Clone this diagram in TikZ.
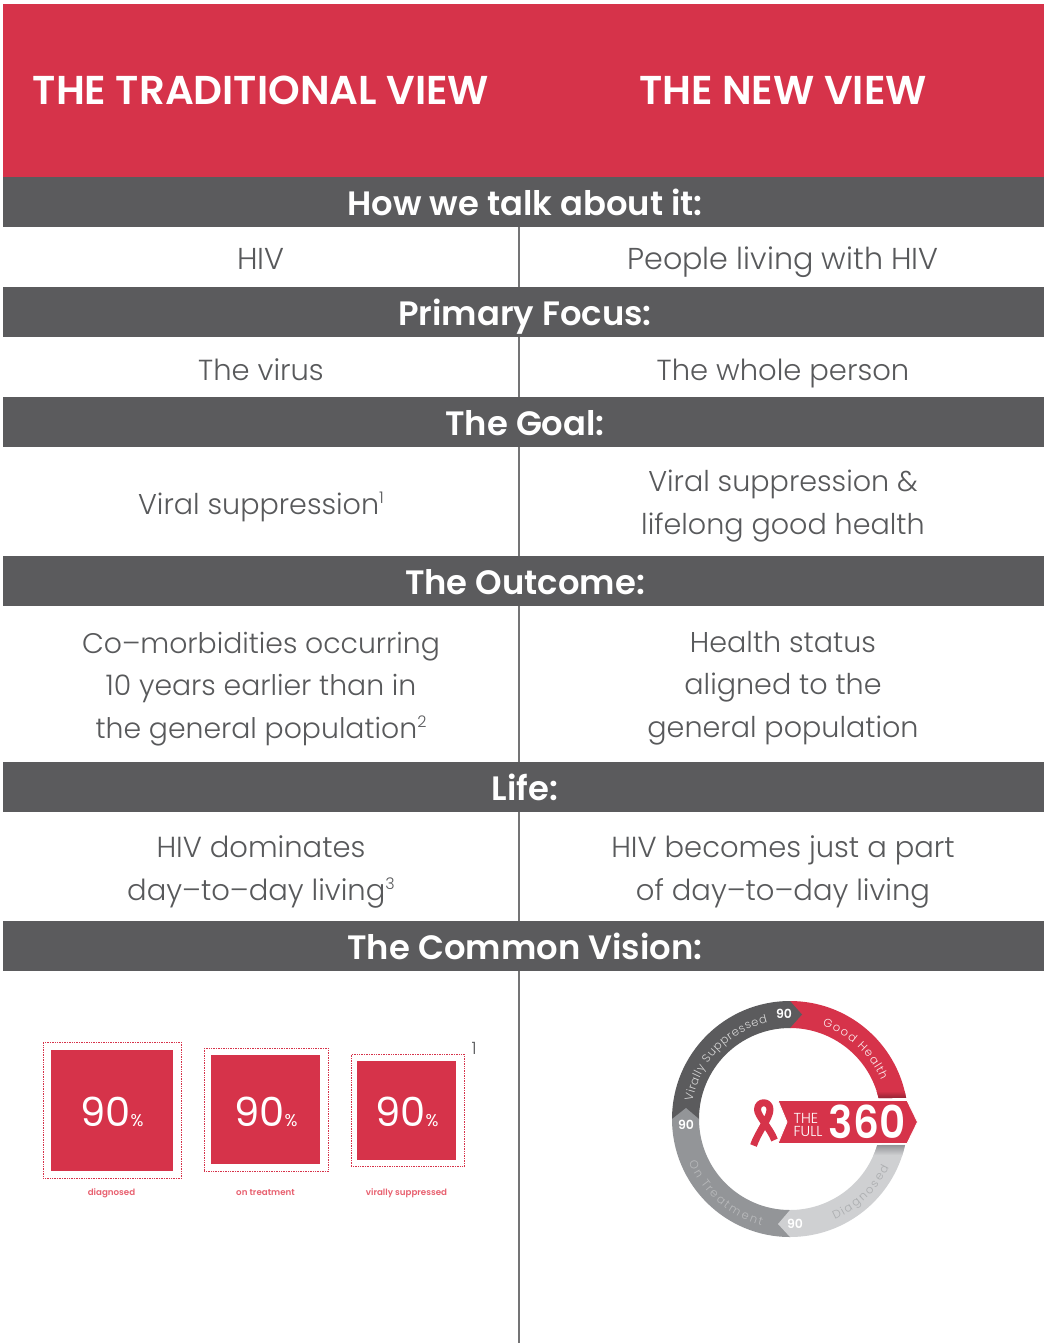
\documentclass[tikz,border=0pt]{standalone}
\usepackage{fontspec}
\usepackage{graphicx}
\setmainfont{Poppins Light}
\newfontfamily\headfont{Poppins SemiBold}
\newfontfamily\boldf{Poppins SemiBold}
\newfontfamily\regf{Poppins}
\usetikzlibrary{decorations.text,shadings}
\definecolor{myred}{HTML}{D6334A}
\definecolor{band}{HTML}{5B5B5D}
\definecolor{bodytxt}{HTML}{58595B}
\definecolor{midg}{HTML}{939598}
\definecolor{lightg}{HTML}{CFD0D2}
\definecolor{lbl}{HTML}{E8606F}
\newcommand{\supr}[1]{\raisebox{11pt}{\fontsize{16}{16}\selectfont #1}}
\tikzset{
 bandbox/.style={fill=band,draw=none,minimum width=1041pt,minimum height=50pt,inner sep=0pt,anchor=north west},
 bandtxt/.style={text=white,font=\headfont\fontsize{33.8}{33.8}\selectfont,inner sep=0pt,anchor=base},
 headtxt/.style={text=white,font=\headfont\fontsize{40.3}{40.3}\selectfont,inner sep=0pt,anchor=base},
 cell/.style={text=bodytxt,font=\fontsize{#1}{42.5}\selectfont,align=center,inner sep=0pt,anchor=base},
 cell/.default=28.6,
 divider/.style={draw=band!85,line width=1.2pt},
 redsq/.style={fill=myred,draw=none,inner sep=0pt,anchor=north west},
 dotbox/.style={draw=myred,densely dotted,line width=.7pt,inner sep=0pt,anchor=north west},
 pct/.style={text=white,inner sep=0pt,anchor=base},
 lab/.style={text=lbl,font=\boldf\fontsize{8.7}{8.7}\selectfont,inner sep=0pt,anchor=base},
 ninety/.style={text=white,font=\boldf\fontsize{12.5}{12.5}\selectfont,inner sep=0pt},
 ribbon/.style={line width=7pt,line join=round},
}
\newcommand{\arctext}[5]{% colour, start, end, radius, text
 \path[decorate,decoration={text effects along path,text={#5},text effects/.cd,text along path,fit text to path,characters={text=#1,font=\fontsize{11.5}{11.5}\selectfont}}]
  (#2:#4) arc[start angle=#2,end angle=#3,radius=#4];}
\newcommand{\ninetypct}{\fontsize{40}{40}\regf\selectfont 90\fontsize{17}{17}\selectfont\%}
\begin{document}
\begin{tikzpicture}[x=1pt,y=-1pt]
\useasboundingbox (0,0) rectangle (1044,1343);
\fill[white] (0,0) rectangle (1044,1343);
\node[fill=myred,minimum width=1041pt,minimum height=173pt,inner sep=0pt,anchor=north west] (hero) at (3,3.5) {};
\node[headtxt] (hl) at (261,105) {THE TRADITIONAL VIEW};
\node[headtxt] (hr) at (783,105) {THE NEW VIEW};
\node[bandbox] (b1) at (3,177) {};
\node[bandbox] (b2) at (3,287) {};
\node[bandbox] (b3) at (3,397) {};
\node[bandbox] (b4) at (3,556) {};
\node[bandbox] (b5) at (3,762) {};
\node[bandbox] (b6) at (3,921) {};
\node[bandtxt] (t1) at (525,215) {How we talk about it:};
\node[bandtxt] (t2) at (525,325) {Primary Focus:};
\node[bandtxt] (t3) at (525,435) {The Goal:};
\node[bandtxt] (t4) at (525,594) {The Outcome:};
\node[bandtxt] (t5) at (525,800) {Life:};
\node[bandtxt] (t6) at (525,959) {The Common Vision:};
\coordinate (vend) at (519,1343);
\foreach \a/\b in {b1/b2,b2/b3,b3/b4,b4/b5,b5/b6}{\draw[divider] (\a.south -| vend) -- (\b.north -| vend);}
\draw[divider] (b6.south -| vend) -- (vend);
\node[cell=30.2] (c1) at (261,269) {HIV};
\node[cell=30.2] (c2) at (783,269) {People living with HIV};
\node[cell=29] (c3) at (261,380) {The virus};
\node[cell=29] (c4) at (783,380) {The whole person};
\node[cell] (c5) at (261,514) {Viral suppression\supr{1}};
\node[cell] (c6) at (783,534) {Viral suppression \&\\lifelong good health};
\node[cell=28.3] (c7) at (261,738) {Co--morbidities occurring\\10 years earlier than in\\the general population\supr{2}};
\node[cell] (c8) at (783,737) {Health status\\aligned to the\\general population};
\node[cell=29] (c9) at (261,900) {HIV dominates\\day--to--day living\supr{3}};
\node[cell=29] (c10) at (783,900) {HIV becomes just a part\\of day--to--day living};
% 90 boxes
\node[dotbox,minimum width=138pt,minimum height=136pt] (d1) at (43,1042) {};
\node[redsq,minimum width=122pt,minimum height=121pt] (s1) at (51,1050) {};
\node[pct] (p1) at (112,1126) {\ninetypct};
\node[dotbox,minimum width=124pt,minimum height=123pt] (d2) at (204,1048) {};
\node[redsq,minimum width=109pt,minimum height=109pt] (s2) at (211,1055) {};
\node[pct] (p2) at (266,1126) {\ninetypct};
\node[dotbox,minimum width=113pt,minimum height=112pt] (d3) at (351,1054) {};
\node[redsq,minimum width=99pt,minimum height=99pt] (s3) at (357,1061) {};
\node[pct] (p3) at (407,1126) {\ninetypct};
\node[lab] (l1) at (111.5,1195) {diagnosed};
\node[lab] (l2) at (265.5,1195) {on treatment};
\node[lab] (l3) at (406.5,1195) {virally suppressed};
\node[text=bodytxt,font=\fontsize{17}{17}\selectfont,inner sep=0pt] (n1) at (474,1048) {1};
% ring
\begin{scope}[shift={(790,1119)}]
\begin{scope}[y=1pt]
\fill[band] (180:118) arc[start angle=180,end angle=90,radius=118] -- (90:91) arc[start angle=90,end angle=180,radius=91] -- cycle;
\fill[midg] (180:118) arc[start angle=180,end angle=270,radius=118] -- (270:91) arc[start angle=270,end angle=180,radius=91] -- cycle;
\fill[lightg] (270:118) arc[start angle=270,end angle=347.3,radius=118] -- (343.4:91) arc[start angle=343.4,end angle=270,radius=91] -- cycle;
\fill[myred] (90:118) arc[start angle=90,end angle=10.3,radius=118] -- (13.3:91) arc[start angle=13.3,end angle=90,radius=91] -- cycle;
\begin{scope}
\clip (90:118) arc[start angle=90,end angle=10.3,radius=118] -- (13.3:91) arc[start angle=13.3,end angle=90,radius=91] -- cycle;
\shade[top color=myred,bottom color=myred!70!black] (85,28) rectangle (120,21);
\end{scope}
\begin{scope}
\clip (270:118) arc[start angle=270,end angle=347.3,radius=118] -- (343.4:91) arc[start angle=343.4,end angle=270,radius=91] -- cycle;
\shade[top color=midg,bottom color=lightg] (80,-26) rectangle (120,-36);
\end{scope}
\fill[band] (0,118) -- (12,104.5) -- (0,91) -- cycle;
\fill[midg] (-118,0) -- (-104,11) -- (-91,0) -- cycle;
\fill[lightg] (0,-118) -- (-12,-105) -- (0,-91) -- cycle;
\arctext{white!75!band}{170}{103}{99}{Virally Suppressed}
\arctext{white!90!myred}{71}{23}{99}{Good Health}
\arctext{white!35!midg}{203}{255}{110}{On Treatment}
\arctext{midg!60!lightg}{-66}{-26}{110}{Diagnosed}
\end{scope}
\end{scope}
\node[ninety] (n90a) at (784,1014) {90};
\node[ninety] (n90b) at (686,1125) {90};
\node[ninety] (n90c) at (795,1224) {90};
% banner
\fill[myred,draw=white,line width=.8pt] (778,1100.5) -- (907,1100.5) -- (917.5,1122) -- (907,1143.5) -- (778,1143.5) -- (787,1122) -- cycle;
\node[text=white,font=\fontsize{14.5}{13}\selectfont,align=left,inner sep=0pt] (tf) at (808,1125) {THE\\FULL};
\node[text=white,font=\headfont\fontsize{45}{45}\selectfont,inner sep=0pt] (t360) at (867,1122) {\scalebox{0.9}[1]{360}};
% ribbon
\draw[myred,ribbon] (753.5,1145.5) .. controls (758,1132) and (770,1118) .. (770,1109.5) .. controls (770,1100.5) and (757.5,1100.5) .. (757.5,1109.5) .. controls (757.5,1116) and (770,1128) .. (774.5,1140);
\end{tikzpicture}
\end{document}
